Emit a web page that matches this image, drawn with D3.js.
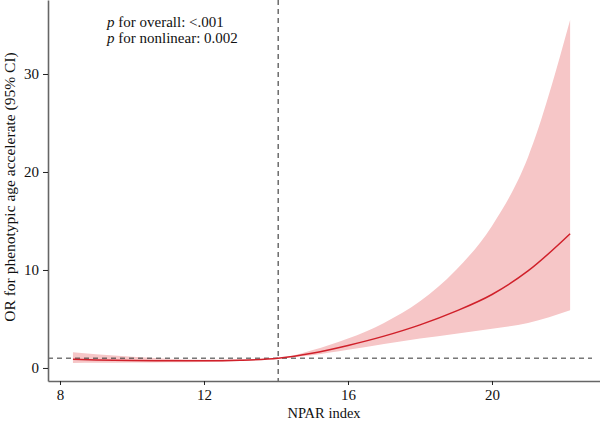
<!DOCTYPE html>
<html>
<head>
<meta charset="utf-8">
<script src="https://cdn.jsdelivr.net/npm/d3@7"></script>
<style>
  body { margin: 0; background: #fff; }
  text { font-family: "Liberation Serif", "DejaVu Serif", serif; fill: #111; }
</style>
</head>
<body>
<div id="chart"></div>
<script>
var width = 600;
var height = 421;

// NPAR index values along the spline
var npar = [8.36, 9, 10, 11, 12, 13, 14.06, 15, 16, 17, 18, 19, 20, 21, 22.17];
// odds ratio and 95% CI
var orValue = [0.88, 0.82, 0.76, 0.73, 0.73, 0.79, 1.0, 1.5, 2.3, 3.25, 4.4, 5.8, 7.5, 9.9, 13.7];
var ciUpper = [1.6, 1.4, 1.15, 0.95, 0.85, 0.88, 1.0, 1.8, 3.0, 4.6, 6.8, 10.0, 14.5, 21.5, 35.5];
var ciLower = [0.5, 0.52, 0.55, 0.58, 0.62, 0.72, 1.0, 1.3, 1.85, 2.45, 3.0, 3.5, 4.0, 4.6, 5.9];

var xTicks = [8, 12, 16, 20];
var yTicks = [0, 10, 20, 30];
var refX = 14.06;
var refY = 1;

var svg = d3.select("#chart").append("svg")
    .attr("width", width)
    .attr("height", height);

var x = d3.scaleLinear().domain([7.667, 23]).range([48, 600]);
var y = d3.scaleLinear().domain([-1.33, 37.55]).range([381, 0]);

var data = npar.map(function(d, i) {
    return { x: d, or: orValue[i], lo: ciLower[i], hi: ciUpper[i] };
});

// confidence band
var area = d3.area()
    .x(function(d) { return x(d.x); })
    .y0(function(d) { return y(d.lo); })
    .y1(function(d) { return y(d.hi); })
    .curve(d3.curveMonotoneX);

svg.append("path")
    .datum(data)
    .attr("d", area)
    .attr("fill", "#f6c6c7");

// reference lines
svg.append("line")
    .attr("x1", x.range()[0]).attr("x2", 592)
    .attr("y1", y(refY)).attr("y2", y(refY))
    .attr("stroke", "#333")
    .attr("stroke-width", 1)
    .attr("stroke-dasharray", "5,4");

svg.append("line")
    .attr("x1", x(refX)).attr("x2", x(refX))
    .attr("y1", 0).attr("y2", 381)
    .attr("stroke", "#222")
    .attr("stroke-width", 1)
    .attr("stroke-dasharray", "5,4");

// OR line
var line = d3.line()
    .x(function(d) { return x(d.x); })
    .y(function(d) { return y(d.or); })
    .curve(d3.curveMonotoneX);

svg.append("path")
    .datum(data)
    .attr("d", line)
    .attr("fill", "none")
    .attr("stroke", "#d0202a")
    .attr("stroke-width", 1.5);

// axes
var xAxis = svg.append("g")
    .attr("transform", "translate(0,381)")
    .call(d3.axisBottom(x).tickValues(xTicks).tickSize(4).tickSizeOuter(0));

var yAxis = svg.append("g")
    .attr("transform", "translate(48,0)")
    .call(d3.axisLeft(y).tickValues(yTicks).tickSize(5).tickSizeOuter(0));

[xAxis, yAxis].forEach(function(ax) {
    ax.select(".domain").attr("stroke", "#666").attr("stroke-width", 1.6);
    ax.selectAll(".tick line").attr("stroke", "#222");
    ax.selectAll(".tick text")
        .attr("font-family", "Liberation Serif, serif")
        .attr("font-size", "15px")
        .attr("fill", "#111");
});
xAxis.selectAll(".tick text").attr("y", 6).attr("dy", "0.85em");
yAxis.selectAll(".tick text").attr("x", -9);

// axis titles
svg.append("text")
    .attr("x", 324)
    .attr("y", 418)
    .attr("text-anchor", "middle")
    .attr("font-size", "14.5px")
    .text("NPAR index");

svg.append("text")
    .attr("transform", "translate(15,187) rotate(-90)")
    .attr("text-anchor", "middle")
    .attr("font-size", "15.5px")
    .text("OR for phenotypic age accelerate (95% CI)");

// p values
var notes = [["p", " for overall: <.001"], ["p", " for nonlinear: 0.002"]];
notes.forEach(function(n, i) {
    var t = svg.append("text")
        .attr("x", 107)
        .attr("y", 27 + i * 16)
        .attr("font-size", "15px");
    t.append("tspan").attr("font-style", "italic").text(n[0]);
    t.append("tspan").text(n[1]);
});
</script>
</body>
</html>
